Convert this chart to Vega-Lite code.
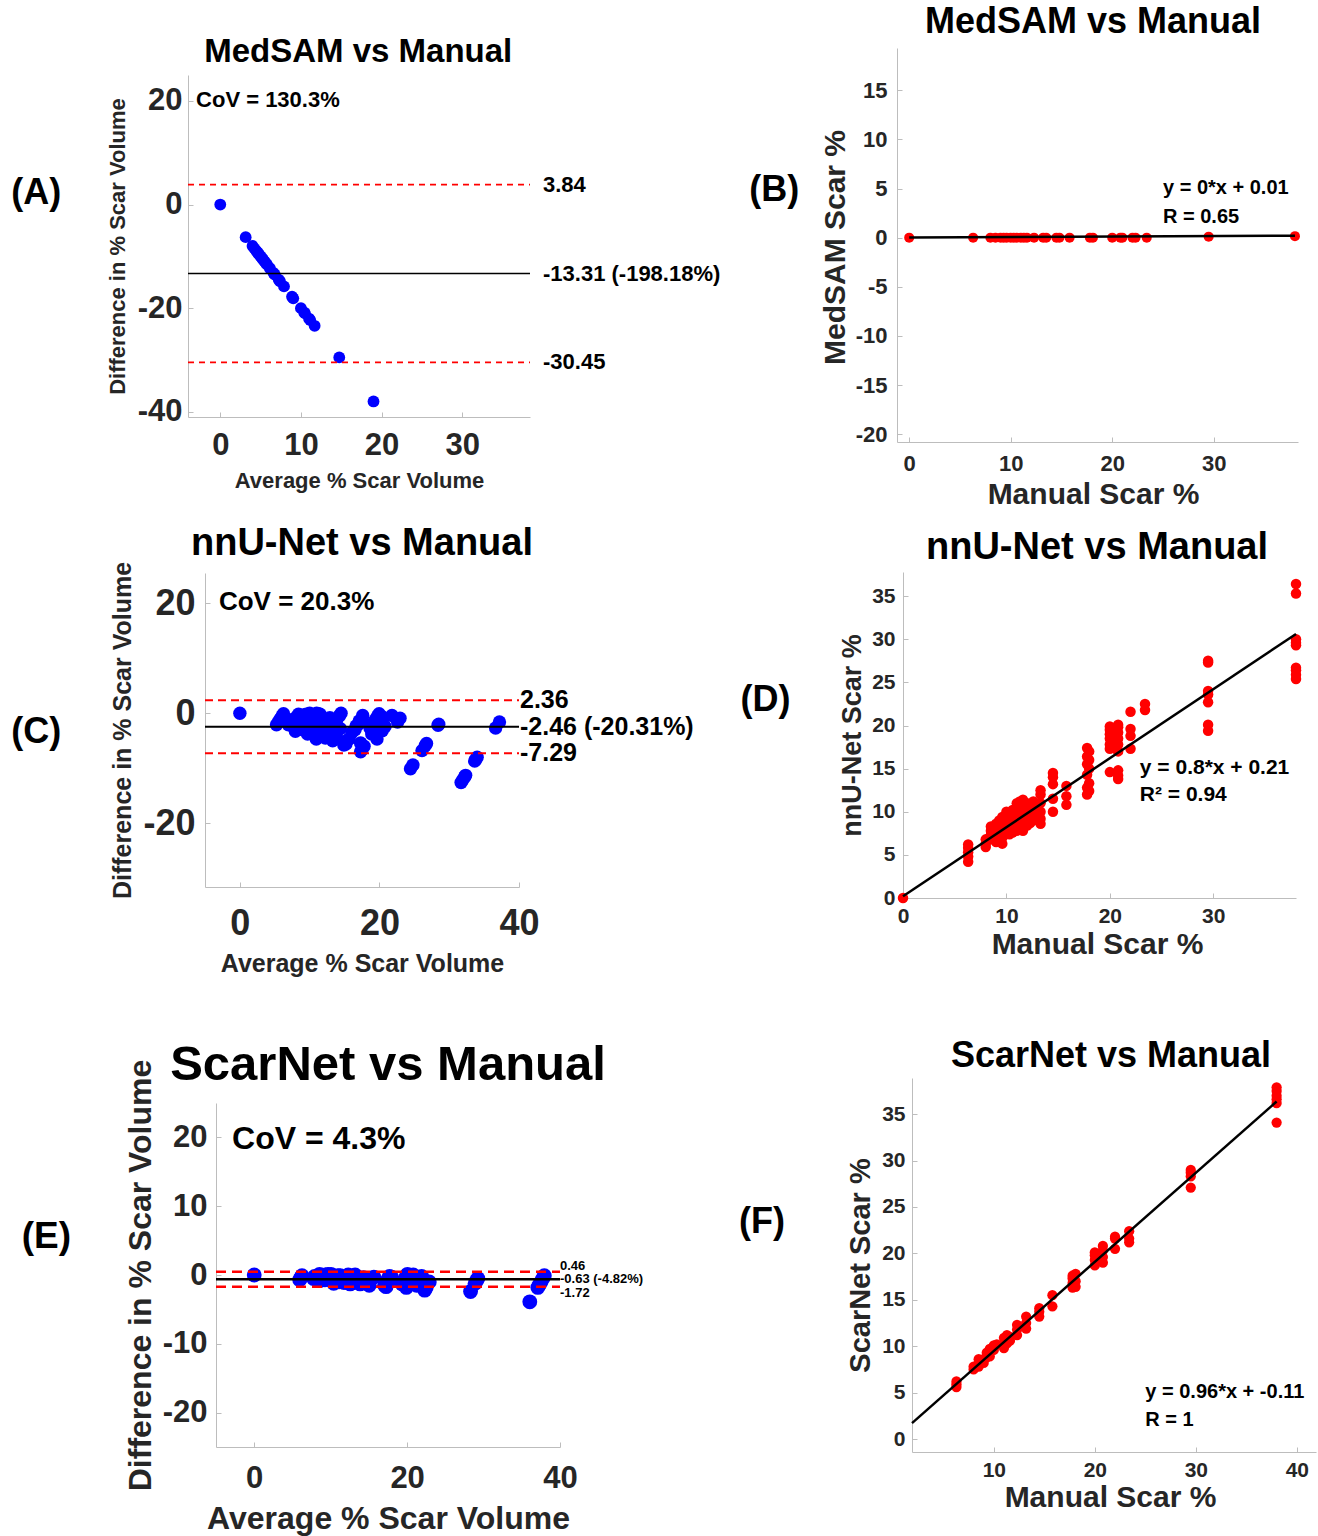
{
"$schema": "https://vega.github.io/schema/vega-lite/v6.json",
"background": "white",
"padding": 0,
"autosize": {"type": "pad"},
"columns": 2,
"spacing": 0,
"bounds": "flush",
"align": "each",
"resolve": {"scale": {"x": "independent", "y": "independent", "color": "independent", "strokeDash": "independent"}},
"config": {
  "view": {"stroke": null},
  "axis": {"grid": false, "labelOverlap": false, "labelFlush": false, "labelExpr": "'' + datum.value", "domainColor": "#bdbdbd", "domainWidth": 1, "tickColor": "#bdbdbd", "tickSize": -5, "labelFont": "Liberation Sans", "labelFontWeight": "bold", "labelColor": "#262626", "titleFont": "Liberation Sans", "titleFontWeight": "bold", "titleColor": "#262626"},
  "text": {"font": "Liberation Sans", "fontWeight": "bold", "color": "#000000", "baseline": "middle"}
},
"datasets": {
  "a_pts": [
    {"avg":0,"diff":0},{"avg":3.15,"diff":-6.3},{"avg":4,"diff":-8},{"avg":4.25,"diff":-8.5},{"avg":4.5,"diff":-9},{"avg":4.65,"diff":-9.3},{"avg":4.8,"diff":-9.6},{"avg":5,"diff":-10},{"avg":5.15,"diff":-10.3},{"avg":5.3,"diff":-10.6},{"avg":5.5,"diff":-11},{"avg":5.65,"diff":-11.3},{"avg":5.8,"diff":-11.6},{"avg":6.15,"diff":-12.3},{"avg":6.6,"diff":-13.2},{"avg":6.75,"diff":-13.5},{"avg":7.25,"diff":-14.5},{"avg":7.4,"diff":-14.8},{"avg":7.9,"diff":-15.8},{"avg":8.9,"diff":-17.8},{"avg":9.05,"diff":-18.1},{"avg":10,"diff":-20},{"avg":10.4,"diff":-20.8},{"avg":10.5,"diff":-21},{"avg":11,"diff":-22},{"avg":11.15,"diff":-22.3},{"avg":11.7,"diff":-23.4},{"avg":14.75,"diff":-29.5},{"avg":19,"diff":-38}
  ],
  "a_lines": [
    {"value":3.84,"kind":"limit","label":"3.84"},
    {"value":-13.31,"kind":"mean","label":"-13.31 (-198.18%)"},
    {"value":-30.45,"kind":"limit","label":"-30.45"}
  ],
  "b_pts": [
    {"manual":0,"medsam":0},{"manual":6.3,"medsam":0},{"manual":8,"medsam":0},{"manual":8.5,"medsam":0},{"manual":9,"medsam":0},{"manual":9.3,"medsam":0},{"manual":9.6,"medsam":0},{"manual":10,"medsam":0},{"manual":10.3,"medsam":0},{"manual":10.6,"medsam":0},{"manual":11,"medsam":0},{"manual":11.3,"medsam":0},{"manual":11.6,"medsam":0},{"manual":12.3,"medsam":0},{"manual":13.2,"medsam":0},{"manual":13.5,"medsam":0},{"manual":14.5,"medsam":0},{"manual":14.8,"medsam":0},{"manual":15.8,"medsam":0},{"manual":17.8,"medsam":0},{"manual":18.1,"medsam":0},{"manual":20,"medsam":0},{"manual":20.8,"medsam":0},{"manual":21,"medsam":0},{"manual":22,"medsam":0},{"manual":22.3,"medsam":0},{"manual":23.4,"medsam":0},{"manual":29.5,"medsam":0.1},{"manual":38,"medsam":0.15}
  ],
  "b_fit": [{"manual":0,"medsam":0.01},{"manual":38,"medsam":0.2}],
  "c_pts": [
    {"avg":0,"diff":0},
    {"avg":5.25,"diff":-2.1},{"avg":5.55,"diff":-1.5},{"avg":5.8,"diff":-1.0},{"avg":6.05,"diff":-0.5},{"avg":6.25,"diff":-0.1},
    {"avg":6.95,"diff":-2.1},{"avg":7.15,"diff":-1.7},{"avg":7.4,"diff":-1.2},
    {"avg":7.65,"diff":-1.7},{"avg":7.9,"diff":-1.2},{"avg":8.15,"diff":-0.7},{"avg":8.4,"diff":-0.2},
    {"avg":7.75,"diff":-2.5},{"avg":8.1,"diff":-1.8},{"avg":8.35,"diff":-1.3},{"avg":8.6,"diff":-0.8},{"avg":8.8,"diff":-0.4},
    {"avg":8.1,"diff":-2.4},{"avg":8.4,"diff":-1.8},{"avg":8.9,"diff":-0.8},{"avg":9.15,"diff":-0.3},
    {"avg":7.95,"diff":-3.3},{"avg":8.3,"diff":-2.6},{"avg":8.7,"diff":-1.8},{"avg":9.2,"diff":-0.8},{"avg":9.5,"diff":-0.2},
    {"avg":8.75,"diff":-2.5},{"avg":9.1,"diff":-1.8},{"avg":9.45,"diff":-1.1},{"avg":9.8,"diff":-0.4},{"avg":10,"diff":0},
    {"avg":8.85,"diff":-2.9},{"avg":9.15,"diff":-2.3},{"avg":9.7,"diff":-1.2},{"avg":10.05,"diff":-0.5},
    {"avg":9.1,"diff":-3.0},{"avg":9.5,"diff":-2.2},{"avg":9.95,"diff":-1.3},{"avg":10.4,"diff":-0.4},
    {"avg":9.4,"diff":-3.2},{"avg":9.8,"diff":-2.4},{"avg":10.25,"diff":-1.5},{"avg":10.75,"diff":-0.5},{"avg":11,"diff":0},
    {"avg":9.65,"diff":-3.3},{"avg":10.15,"diff":-2.3},{"avg":10.65,"diff":-1.3},{"avg":11.25,"diff":-0.1},
    {"avg":9.7,"diff":-3.8},{"avg":10.15,"diff":-2.9},{"avg":10.65,"diff":-1.9},{"avg":11.1,"diff":-1.0},{"avg":11.5,"diff":-0.2},
    {"avg":10.2,"diff":-3.6},{"avg":10.6,"diff":-2.8},{"avg":11.05,"diff":-1.9},{"avg":11.5,"diff":-1.0},
    {"avg":10.5,"diff":-3.6},{"avg":10.9,"diff":-2.8},{"avg":11.35,"diff":-1.9},
    {"avg":10.8,"diff":-3.6},{"avg":11.25,"diff":-2.7},{"avg":11.7,"diff":-1.8},{"avg":11.9,"diff":-1.4},
    {"avg":10.95,"diff":-4.7},{"avg":11.25,"diff":-4.1},{"avg":11.65,"diff":-3.3},{"avg":12.15,"diff":-2.3},{"avg":12.65,"diff":-1.3},{"avg":12.9,"diff":-0.8},
    {"avg":12.25,"diff":-4.5},{"avg":13,"diff":-3.0},{"avg":13.85,"diff":-1.3},{"avg":14.25,"diff":-0.5},{"avg":14.5,"diff":0},
    {"avg":13.3,"diff":-5.0},{"avg":13.8,"diff":-4.0},{"avg":14.4,"diff":-2.8},
    {"avg":14.9,"diff":-5.8},{"avg":15.3,"diff":-5.0},{"avg":16.05,"diff":-3.5},{"avg":16.65,"diff":-2.3},{"avg":17.1,"diff":-1.4},{"avg":17.6,"diff":-0.4},
    {"avg":15.2,"diff":-5.6},{"avg":15.65,"diff":-4.7},{"avg":16.5,"diff":-3.0},{"avg":17,"diff":-2.0},{"avg":17.5,"diff":-1.0},
    {"avg":17.3,"diff":-5.4},{"avg":18.65,"diff":-2.7},{"avg":18.9,"diff":-2.2},{"avg":19.25,"diff":-1.5},{"avg":19.5,"diff":-1.0},{"avg":19.75,"diff":-0.5},{"avg":19.95,"diff":-0.1},
    {"avg":17.3,"diff":-7.0},{"avg":17.5,"diff":-6.6},{"avg":17.8,"diff":-6.0},{"avg":18.9,"diff":-3.8},{"avg":19.3,"diff":-3.0},{"avg":19.65,"diff":-2.3},{"avg":20,"diff":-1.6},{"avg":20.3,"diff":-1.0},{"avg":20.45,"diff":-0.7},
    {"avg":19.65,"diff":-4.7},{"avg":20.4,"diff":-3.2},{"avg":20.8,"diff":-2.4},{"avg":21.8,"diff":-0.4},
    {"avg":22.6,"diff":-1.6},{"avg":22.95,"diff":-0.9},
    {"avg":24.45,"diff":-10.1},{"avg":24.8,"diff":-9.4},{"avg":26.1,"diff":-6.8},{"avg":26.55,"diff":-5.9},{"avg":26.75,"diff":-5.5},{"avg":28.4,"diff":-2.2},{"avg":28.5,"diff":-2.0},
    {"avg":31.7,"diff":-12.6},{"avg":31.95,"diff":-12.1},{"avg":32.2,"diff":-11.6},{"avg":32.35,"diff":-11.3},{"avg":33.65,"diff":-8.7},{"avg":33.8,"diff":-8.4},{"avg":34,"diff":-8.0},{"avg":36.65,"diff":-2.7},{"avg":37.2,"diff":-1.6}
  ],
  "c_lines": [
    {"value":2.36,"kind":"limit","label":"2.36"},
    {"value":-2.46,"kind":"mean","label":"-2.46 (-20.31%)"},
    {"value":-7.29,"kind":"limit","label":"-7.29"}
  ],
  "d_pts": [
    {"manual":0,"nnunet":0},
    {"manual":6.3,"nnunet":4.2},{"manual":6.3,"nnunet":4.8},{"manual":6.3,"nnunet":5.3},{"manual":6.3,"nnunet":5.8},{"manual":6.3,"nnunet":6.2},
    {"manual":8,"nnunet":5.9},{"manual":8,"nnunet":6.3},{"manual":8,"nnunet":6.8},
    {"manual":8.5,"nnunet":6.8},{"manual":8.5,"nnunet":7.3},{"manual":8.5,"nnunet":7.8},{"manual":8.5,"nnunet":8.3},
    {"manual":9,"nnunet":6.5},{"manual":9,"nnunet":7.2},{"manual":9,"nnunet":7.7},{"manual":9,"nnunet":8.2},{"manual":9,"nnunet":8.6},
    {"manual":9.3,"nnunet":6.9},{"manual":9.3,"nnunet":7.5},{"manual":9.3,"nnunet":8.5},{"manual":9.3,"nnunet":9.0},
    {"manual":9.6,"nnunet":6.3},{"manual":9.6,"nnunet":7.0},{"manual":9.6,"nnunet":7.8},{"manual":9.6,"nnunet":8.8},{"manual":9.6,"nnunet":9.4},
    {"manual":10,"nnunet":7.5},{"manual":10,"nnunet":8.2},{"manual":10,"nnunet":8.9},{"manual":10,"nnunet":9.6},{"manual":10,"nnunet":10.0},
    {"manual":10.3,"nnunet":7.4},{"manual":10.3,"nnunet":8.0},{"manual":10.3,"nnunet":9.1},{"manual":10.3,"nnunet":9.8},
    {"manual":10.6,"nnunet":7.6},{"manual":10.6,"nnunet":8.4},{"manual":10.6,"nnunet":9.3},{"manual":10.6,"nnunet":10.2},
    {"manual":11,"nnunet":7.8},{"manual":11,"nnunet":8.6},{"manual":11,"nnunet":9.5},{"manual":11,"nnunet":10.5},{"manual":11,"nnunet":11.0},
    {"manual":11.3,"nnunet":8.0},{"manual":11.3,"nnunet":9.0},{"manual":11.3,"nnunet":10.0},{"manual":11.3,"nnunet":11.2},
    {"manual":11.6,"nnunet":7.8},{"manual":11.6,"nnunet":8.7},{"manual":11.6,"nnunet":9.7},{"manual":11.6,"nnunet":10.6},{"manual":11.6,"nnunet":11.4},
    {"manual":12,"nnunet":8.4},{"manual":12,"nnunet":9.2},{"manual":12,"nnunet":10.1},{"manual":12,"nnunet":11.0},
    {"manual":12.3,"nnunet":8.7},{"manual":12.3,"nnunet":9.5},{"manual":12.3,"nnunet":10.4},
    {"manual":12.6,"nnunet":9.0},{"manual":12.6,"nnunet":9.9},{"manual":12.6,"nnunet":10.8},{"manual":12.6,"nnunet":11.2},
    {"manual":13.3,"nnunet":8.6},{"manual":13.3,"nnunet":9.2},{"manual":13.3,"nnunet":10.0},{"manual":13.3,"nnunet":11.0},{"manual":13.3,"nnunet":12.0},{"manual":13.3,"nnunet":12.5},
    {"manual":14.5,"nnunet":10.0},{"manual":14.5,"nnunet":11.5},{"manual":14.5,"nnunet":13.2},{"manual":14.5,"nnunet":14.0},{"manual":14.5,"nnunet":14.5},
    {"manual":15.8,"nnunet":10.8},{"manual":15.8,"nnunet":11.8},{"manual":15.8,"nnunet":13.0},
    {"manual":17.8,"nnunet":12.0},{"manual":17.8,"nnunet":12.8},{"manual":17.8,"nnunet":14.3},{"manual":17.8,"nnunet":15.5},{"manual":17.8,"nnunet":16.4},{"manual":17.8,"nnunet":17.4},
    {"manual":18,"nnunet":12.4},{"manual":18,"nnunet":13.3},{"manual":18,"nnunet":15.0},{"manual":18,"nnunet":16.0},{"manual":18,"nnunet":17.0},
    {"manual":20,"nnunet":14.6},{"manual":20,"nnunet":17.3},{"manual":20,"nnunet":17.8},{"manual":20,"nnunet":18.5},{"manual":20,"nnunet":19.0},{"manual":20,"nnunet":19.5},{"manual":20,"nnunet":19.9},
    {"manual":20.8,"nnunet":13.8},{"manual":20.8,"nnunet":14.2},{"manual":20.8,"nnunet":14.8},{"manual":20.8,"nnunet":17.0},{"manual":20.8,"nnunet":17.8},{"manual":20.8,"nnunet":18.5},{"manual":20.8,"nnunet":19.2},{"manual":20.8,"nnunet":19.8},{"manual":20.8,"nnunet":20.1},
    {"manual":22,"nnunet":17.3},{"manual":22,"nnunet":18.8},{"manual":22,"nnunet":19.6},{"manual":22,"nnunet":21.6},
    {"manual":23.4,"nnunet":21.8},{"manual":23.4,"nnunet":22.5},
    {"manual":29.5,"nnunet":19.4},{"manual":29.5,"nnunet":20.1},{"manual":29.5,"nnunet":22.7},{"manual":29.5,"nnunet":23.6},{"manual":29.5,"nnunet":24.0},{"manual":29.5,"nnunet":27.3},{"manual":29.5,"nnunet":27.5},
    {"manual":38,"nnunet":25.4},{"manual":38,"nnunet":25.9},{"manual":38,"nnunet":26.4},{"manual":38,"nnunet":26.7},{"manual":38,"nnunet":29.3},{"manual":38,"nnunet":29.6},{"manual":38,"nnunet":30.0},{"manual":38,"nnunet":35.3},{"manual":38,"nnunet":36.4}
  ],
  "d_fit": [{"manual":0,"nnunet":0.21},{"manual":38,"nnunet":30.61}],
  "e_pts": [
    {"avg":0,"diff":0},
    {"avg":5.95,"diff":-0.7},{"avg":6.1,"diff":-0.4},{"avg":6.25,"diff":-0.1},
    {"avg":7.75,"diff":-0.5},{"avg":7.9,"diff":-0.2},
    {"avg":8.15,"diff":-0.7},{"avg":8.35,"diff":-0.3},{"avg":8.55,"diff":0.1},
    {"avg":8.6,"diff":-0.8},{"avg":8.8,"diff":-0.4},
    {"avg":9.05,"diff":-0.5},{"avg":9.3,"diff":0},
    {"avg":9.25,"diff":-0.7},{"avg":9.55,"diff":-0.1},{"avg":9.65,"diff":0.1},
    {"avg":9.8,"diff":-0.4},{"avg":10.05,"diff":0.1},
    {"avg":10.25,"diff":-0.1},
    {"avg":10.4,"diff":-1.2},{"avg":10.65,"diff":-0.7},{"avg":10.95,"diff":-0.1},
    {"avg":10.8,"diff":-1.0},{"avg":11.05,"diff":-0.5},{"avg":11.25,"diff":-0.1},
    {"avg":11.1,"diff":-1.0},{"avg":11.3,"diff":-0.6},
    {"avg":11.75,"diff":-1.1},{"avg":12.05,"diff":-0.5},{"avg":12.3,"diff":0},
    {"avg":12.55,"diff":-1.3},{"avg":12.85,"diff":-0.7},{"avg":13.2,"diff":0},
    {"avg":13.85,"diff":-1.3},{"avg":14.1,"diff":-0.8},{"avg":14.3,"diff":-0.4},
    {"avg":15.05,"diff":-1.5},{"avg":15.65,"diff":-0.3},
    {"avg":17.05,"diff":-1.5},{"avg":17.3,"diff":-1.0},{"avg":17.55,"diff":-0.5},{"avg":17.7,"diff":-0.2},
    {"avg":17.25,"diff":-1.7},{"avg":17.55,"diff":-1.1},{"avg":17.95,"diff":-0.3},
    {"avg":19.35,"diff":-1.3},{"avg":19.65,"diff":-0.7},{"avg":19.9,"diff":-0.2},{"avg":20.05,"diff":0.1},
    {"avg":19.9,"diff":-1.8},{"avg":20.2,"diff":-1.2},{"avg":20.55,"diff":-0.5},{"avg":20.8,"diff":0},
    {"avg":21.25,"diff":-1.5},{"avg":21.8,"diff":-0.4},{"avg":21.9,"diff":-0.2},
    {"avg":22.3,"diff":-2.2},{"avg":22.5,"diff":-1.8},{"avg":22.9,"diff":-1.0},
    {"avg":28.3,"diff":-2.4},{"avg":28.9,"diff":-1.2},{"avg":29.1,"diff":-0.8},{"avg":29.25,"diff":-0.5},
    {"avg":36.05,"diff":-3.9},{"avg":37.1,"diff":-1.8},{"avg":37.3,"diff":-1.4},{"avg":37.5,"diff":-1.0},{"avg":37.75,"diff":-0.5},{"avg":37.95,"diff":-0.1}
  ],
  "e_lines": [
    {"value":0.46,"kind":"limit","label":"0.46"},
    {"value":-0.63,"kind":"mean","label":"-0.63 (-4.82%)"},
    {"value":-1.72,"kind":"limit","label":"-1.72"}
  ],
  "f_pts": [
    {"manual":6.3,"scarnet":5.6},{"manual":6.3,"scarnet":5.9},{"manual":6.3,"scarnet":6.2},
    {"manual":8,"scarnet":7.5},{"manual":8,"scarnet":7.8},
    {"manual":8.5,"scarnet":7.8},{"manual":8.5,"scarnet":8.2},{"manual":8.5,"scarnet":8.6},
    {"manual":9,"scarnet":8.2},{"manual":9,"scarnet":8.6},
    {"manual":9.3,"scarnet":8.8},{"manual":9.3,"scarnet":9.3},
    {"manual":9.6,"scarnet":8.9},{"manual":9.6,"scarnet":9.5},{"manual":9.6,"scarnet":9.7},
    {"manual":10,"scarnet":9.6},{"manual":10,"scarnet":10.1},
    {"manual":10.3,"scarnet":10.2},
    {"manual":11,"scarnet":9.8},{"manual":11,"scarnet":10.3},{"manual":11,"scarnet":10.9},
    {"manual":11.3,"scarnet":10.3},{"manual":11.3,"scarnet":10.8},{"manual":11.3,"scarnet":11.2},
    {"manual":11.6,"scarnet":10.6},{"manual":11.6,"scarnet":11.0},
    {"manual":12.3,"scarnet":11.2},{"manual":12.3,"scarnet":11.8},{"manual":12.3,"scarnet":12.3},
    {"manual":13.2,"scarnet":11.9},{"manual":13.2,"scarnet":12.5},{"manual":13.2,"scarnet":13.2},
    {"manual":14.5,"scarnet":13.2},{"manual":14.5,"scarnet":13.7},{"manual":14.5,"scarnet":14.1},
    {"manual":15.8,"scarnet":14.3},{"manual":15.8,"scarnet":15.5},
    {"manual":17.8,"scarnet":16.3},{"manual":17.8,"scarnet":16.8},{"manual":17.8,"scarnet":17.3},{"manual":17.8,"scarnet":17.6},
    {"manual":18.1,"scarnet":16.4},{"manual":18.1,"scarnet":17.0},{"manual":18.1,"scarnet":17.8},
    {"manual":20,"scarnet":18.7},{"manual":20,"scarnet":19.3},{"manual":20,"scarnet":19.8},{"manual":20,"scarnet":20.1},
    {"manual":20.8,"scarnet":19.0},{"manual":20.8,"scarnet":19.6},{"manual":20.8,"scarnet":20.3},{"manual":20.8,"scarnet":20.8},
    {"manual":22,"scarnet":20.5},{"manual":22,"scarnet":21.6},{"manual":22,"scarnet":21.8},
    {"manual":23.4,"scarnet":21.2},{"manual":23.4,"scarnet":21.6},{"manual":23.4,"scarnet":22.4},
    {"manual":29.5,"scarnet":27.1},{"manual":29.5,"scarnet":28.3},{"manual":29.5,"scarnet":28.7},{"manual":29.5,"scarnet":29.0},
    {"manual":38,"scarnet":34.1},{"manual":38,"scarnet":36.2},{"manual":38,"scarnet":36.6},{"manual":38,"scarnet":37.0},{"manual":38,"scarnet":37.5},{"manual":38,"scarnet":37.9}
  ],
  "f_fit": [{"manual":1.9,"scarnet":1.71},{"manual":38,"scarnet":36.37}]
},
"concat": [
  {
    "width": 735, "height": 515,
    "layer": [
      {"data": {"name": "a_pts"}, "mark": {"type": "circle", "size": 140, "color": "#0000ff", "opacity": 1},
       "encoding": {
         "x": {"field": "avg", "type": "quantitative", "scale": {"domain": [-4, 38.4], "range": [188, 530], "nice": false, "zero": false},
               "axis": {"orient": "bottom", "offset": -98, "values": [0, 10, 20, 30], "labelFontSize": 31, "labelPadding": 18, "title": "Average % Scar Volume", "titleFontSize": 22, "titleX": 359, "titleY": 63, "titleBaseline": "middle", "titleAlign": "center"}},
         "y": {"field": "diff", "type": "quantitative", "scale": {"domain": [-41, 25], "range": [417, 75], "nice": false, "zero": false},
               "axis": {"orient": "left", "offset": -188, "values": [-40, -20, 0, 20], "labelFontSize": 31, "labelPadding": 11, "title": "Difference in % Scar Volume", "titleFontSize": 22, "titleX": -71, "titleY": 246, "titleAngle": -90, "titleBaseline": "middle", "titleAlign": "center"}}
       }},
      {"data": {"name": "a_lines"}, "mark": {"type": "rule", "strokeWidth": 1.6},
       "encoding": {
         "y": {"field": "value", "type": "quantitative"},
         "x": {"datum": -4, "type": "quantitative"}, "x2": {"datum": 38.4},
         "color": {"field": "kind", "type": "nominal", "scale": {"domain": ["limit", "mean"], "range": ["#ff0000", "#000000"]}, "legend": null},
         "strokeDash": {"field": "kind", "type": "nominal", "scale": {"domain": ["limit", "mean"], "range": [[6, 5], [1, 0]]}, "legend": null}
       }},
      {"data": {"name": "a_lines"}, "mark": {"type": "text", "align": "left", "dx": 13, "fontSize": 22},
       "encoding": {"y": {"field": "value", "type": "quantitative"}, "x": {"datum": 38.4, "type": "quantitative"}, "text": {"field": "label"}}},
      {"data": {"values": [{"t": "MedSAM vs Manual"}]}, "mark": {"type": "text", "align": "center", "fontSize": 33},
       "encoding": {"x": {"datum": 17.1, "type": "quantitative"}, "y": {"datum": 29.4, "type": "quantitative"}, "text": {"field": "t"}}},
      {"data": {"values": [{"t": "(A)"}]}, "mark": {"type": "text", "align": "center", "fontSize": 36},
       "encoding": {"x": {"datum": -22.8, "type": "quantitative"}, "y": {"datum": 2.2, "type": "quantitative"}, "text": {"field": "t"}}},
      {"data": {"values": [{"t": "CoV = 130.3%"}]}, "mark": {"type": "text", "align": "left", "fontSize": 22},
       "encoding": {"x": {"datum": -3.0, "type": "quantitative"}, "y": {"datum": 20.2, "type": "quantitative"}, "text": {"field": "t"}}}
    ]
  },
  {
    "width": 583, "height": 515,
    "layer": [
      {"data": {"name": "b_pts"}, "mark": {"type": "circle", "size": 100, "color": "#ff0000", "opacity": 1},
       "encoding": {
         "x": {"field": "manual", "type": "quantitative", "scale": {"domain": [-1.2, 38.3], "range": [162, 563], "nice": false, "zero": false},
               "axis": {"orient": "bottom", "offset": -73, "values": [0, 10, 20, 30], "labelFontSize": 22, "labelPadding": 16, "title": "Manual Scar %", "titleFontSize": 30, "titleX": 358, "titleY": 52, "titleBaseline": "middle", "titleAlign": "center"}},
         "y": {"field": "medsam", "type": "quantitative", "scale": {"domain": [-20.8, 19.3], "range": [442, 48], "nice": false, "zero": false},
               "axis": {"orient": "left", "offset": -162, "values": [-20, -15, -10, -5, 0, 5, 10, 15], "labelFontSize": 22, "labelPadding": 15, "title": "MedSAM Scar %", "titleFontSize": 30, "titleX": -62, "titleY": 247, "titleAngle": -90, "titleBaseline": "middle", "titleAlign": "center"}}
       }},
      {"data": {"name": "b_fit"}, "mark": {"type": "line", "color": "#000000", "strokeWidth": 2.5},
       "encoding": {"x": {"field": "manual", "type": "quantitative"}, "y": {"field": "medsam", "type": "quantitative"}}},
      {"data": {"values": [{"t": "MedSAM vs Manual"}]}, "mark": {"type": "text", "align": "center", "fontSize": 36},
       "encoding": {"x": {"datum": 18.1, "type": "quantitative"}, "y": {"datum": 21.95, "type": "quantitative"}, "text": {"field": "t"}}},
      {"data": {"values": [{"t": "(B)"}]}, "mark": {"type": "text", "align": "center", "fontSize": 36},
       "encoding": {"x": {"datum": -13.3, "type": "quantitative"}, "y": {"datum": 4.85, "type": "quantitative"}, "text": {"field": "t"}}},
      {"data": {"values": [{"t": "y = 0*x + 0.01"}]}, "mark": {"type": "text", "align": "left", "fontSize": 20},
       "encoding": {"x": {"datum": 25.0, "type": "quantitative"}, "y": {"datum": 5.05, "type": "quantitative"}, "text": {"field": "t"}}},
      {"data": {"values": [{"t": "R = 0.65"}]}, "mark": {"type": "text", "align": "left", "fontSize": 20},
       "encoding": {"x": {"datum": 25.0, "type": "quantitative"}, "y": {"datum": 2.1, "type": "quantitative"}, "text": {"field": "t"}}}
    ]
  },
  {
    "width": 735, "height": 505,
    "layer": [
      {"data": {"name": "c_pts"}, "mark": {"type": "circle", "size": 180, "color": "#0000ff", "opacity": 1},
       "encoding": {
         "x": {"field": "avg", "type": "quantitative", "scale": {"domain": [-5, 40], "range": [205, 519], "nice": false, "zero": false},
               "axis": {"orient": "bottom", "offset": -133, "values": [0, 20, 40], "labelFontSize": 36, "labelPadding": 24, "title": "Average % Scar Volume", "titleFontSize": 25, "titleX": 362, "titleY": 76, "titleBaseline": "middle", "titleAlign": "center"}},
         "y": {"field": "diff", "type": "quantitative", "scale": {"domain": [-31.6, 25.5], "range": [372, 58], "nice": false, "zero": false},
               "axis": {"orient": "left", "offset": -205, "values": [-20, 0, 20], "labelFontSize": 36, "labelPadding": 15, "title": "Difference in % Scar Volume", "titleFontSize": 25, "titleX": -83, "titleY": 215, "titleAngle": -90, "titleBaseline": "middle", "titleAlign": "center"}}
       }},
      {"data": {"name": "c_lines"}, "mark": {"type": "rule", "strokeWidth": 2},
       "encoding": {
         "y": {"field": "value", "type": "quantitative"},
         "x": {"datum": -5, "type": "quantitative"}, "x2": {"datum": 40},
         "color": {"field": "kind", "type": "nominal", "scale": {"domain": ["limit", "mean"], "range": ["#ff0000", "#000000"]}, "legend": null},
         "strokeDash": {"field": "kind", "type": "nominal", "scale": {"domain": ["limit", "mean"], "range": [[8, 5], [1, 0]]}, "legend": null}
       }},
      {"data": {"name": "c_lines"}, "mark": {"type": "text", "align": "left", "dx": 1, "fontSize": 25},
       "encoding": {"y": {"field": "value", "type": "quantitative"}, "x": {"datum": 40, "type": "quantitative"}, "text": {"field": "label"}}},
      {"data": {"values": [{"t": "nnU-Net vs Manual"}]}, "mark": {"type": "text", "align": "center", "fontSize": 38},
       "encoding": {"x": {"datum": 17.5, "type": "quantitative"}, "y": {"datum": 30.8, "type": "quantitative"}, "text": {"field": "t"}}},
      {"data": {"values": [{"t": "(C)"}]}, "mark": {"type": "text", "align": "center", "fontSize": 36},
       "encoding": {"x": {"datum": -29.2, "type": "quantitative"}, "y": {"datum": -3.4, "type": "quantitative"}, "text": {"field": "t"}}},
      {"data": {"values": [{"t": "CoV = 20.3%"}]}, "mark": {"type": "text", "align": "left", "fontSize": 26},
       "encoding": {"x": {"datum": -3.0, "type": "quantitative"}, "y": {"datum": 20.2, "type": "quantitative"}, "text": {"field": "t"}}}
    ]
  },
  {
    "width": 583, "height": 505,
    "layer": [
      {"data": {"name": "d_pts"}, "mark": {"type": "circle", "size": 110, "color": "#ff0000", "opacity": 1},
       "encoding": {
         "x": {"field": "manual", "type": "quantitative", "scale": {"domain": [0, 38], "range": [168, 561], "nice": false, "zero": false},
               "axis": {"orient": "bottom", "offset": -122, "values": [0, 10, 20, 30], "labelFontSize": 21, "labelPadding": 12, "title": "Manual Scar %", "titleFontSize": 30, "titleX": 362, "titleY": 46, "titleBaseline": "middle", "titleAlign": "center"}},
         "y": {"field": "nnunet", "type": "quantitative", "scale": {"domain": [0, 37.8], "range": [383, 57], "nice": false, "zero": false},
               "axis": {"orient": "left", "offset": -168, "values": [0, 5, 10, 15, 20, 25, 30, 35], "labelFontSize": 21, "labelPadding": 13, "title": "nnU-Net Scar %", "titleFontSize": 27, "titleX": -51, "titleY": 220, "titleAngle": -90, "titleBaseline": "middle", "titleAlign": "center"}}
       }},
      {"data": {"name": "d_fit"}, "mark": {"type": "line", "color": "#000000", "strokeWidth": 2.5},
       "encoding": {"x": {"field": "manual", "type": "quantitative"}, "y": {"field": "nnunet", "type": "quantitative"}}},
      {"data": {"values": [{"t": "nnU-Net vs Manual"}]}, "mark": {"type": "text", "align": "center", "fontSize": 38},
       "encoding": {"x": {"datum": 18.76, "type": "quantitative"}, "y": {"datum": 40.6, "type": "quantitative"}, "text": {"field": "t"}}},
      {"data": {"values": [{"t": "(D)"}]}, "mark": {"type": "text", "align": "center", "fontSize": 36},
       "encoding": {"x": {"datum": -13.3, "type": "quantitative"}, "y": {"datum": 22.96, "type": "quantitative"}, "text": {"field": "t"}}},
      {"data": {"values": [{"t": "y = 0.8*x + 0.21"}]}, "mark": {"type": "text", "align": "left", "fontSize": 21},
       "encoding": {"x": {"datum": 22.9, "type": "quantitative"}, "y": {"datum": 15.07, "type": "quantitative"}, "text": {"field": "t"}}},
      {"data": {"values": [{"t": "R² = 0.94"}]}, "mark": {"type": "text", "align": "left", "fontSize": 21},
       "encoding": {"x": {"datum": 22.9, "type": "quantitative"}, "y": {"datum": 11.94, "type": "quantitative"}, "text": {"field": "t"}}}
    ]
  },
  {
    "width": 735, "height": 516,
    "layer": [
      {"data": {"name": "e_pts"}, "mark": {"type": "circle", "size": 220, "color": "#0000ff", "opacity": 1},
       "encoding": {
         "x": {"field": "avg", "type": "quantitative", "scale": {"domain": [-5, 40], "range": [216, 560], "nice": false, "zero": false},
               "axis": {"orient": "bottom", "offset": -89, "values": [0, 20, 40], "labelFontSize": 31, "labelPadding": 21, "title": "Average % Scar Volume", "titleFontSize": 32, "titleX": 388, "titleY": 71, "titleBaseline": "middle", "titleAlign": "center"}},
         "y": {"field": "diff", "type": "quantitative", "scale": {"domain": [-25, 25], "range": [427, 83], "nice": false, "zero": false},
               "axis": {"orient": "left", "offset": -216, "values": [-20, -10, 0, 10, 20], "labelFontSize": 31, "labelPadding": 14, "title": "Difference in % Scar Volume", "titleFontSize": 32, "titleX": -76, "titleY": 255, "titleAngle": -90, "titleBaseline": "middle", "titleAlign": "center"}}
       }},
      {"data": {"name": "e_lines"}, "mark": {"type": "rule", "strokeWidth": 2.5},
       "encoding": {
         "y": {"field": "value", "type": "quantitative"},
         "x": {"datum": -5, "type": "quantitative"}, "x2": {"datum": 40},
         "color": {"field": "kind", "type": "nominal", "scale": {"domain": ["limit", "mean"], "range": ["#ff0000", "#000000"]}, "legend": null},
         "strokeDash": {"field": "kind", "type": "nominal", "scale": {"domain": ["limit", "mean"], "range": [[10, 6], [1, 0]]}, "legend": null}
       }},
      {"data": {"name": "e_lines"}, "transform": [{"filter": "datum.label == '0.46'"}], "mark": {"type": "text", "align": "left", "dx": 0, "dy": -6, "fontSize": 13},
       "encoding": {"y": {"field": "value", "type": "quantitative"}, "x": {"datum": 40, "type": "quantitative"}, "text": {"field": "label"}}},
      {"data": {"name": "e_lines"}, "transform": [{"filter": "datum.kind == 'mean'"}], "mark": {"type": "text", "align": "left", "dx": 0, "fontSize": 13},
       "encoding": {"y": {"field": "value", "type": "quantitative"}, "x": {"datum": 40, "type": "quantitative"}, "text": {"field": "label"}}},
      {"data": {"name": "e_lines"}, "transform": [{"filter": "datum.label == '-1.72'"}], "mark": {"type": "text", "align": "left", "dx": 0, "dy": 6, "fontSize": 13},
       "encoding": {"y": {"field": "value", "type": "quantitative"}, "x": {"datum": 40, "type": "quantitative"}, "text": {"field": "label"}}},
      {"data": {"values": [{"t": "ScarNet vs Manual"}]}, "mark": {"type": "text", "align": "center", "fontSize": 49},
       "encoding": {"x": {"datum": 17.5, "type": "quantitative"}, "y": {"datum": 30.5, "type": "quantitative"}, "text": {"field": "t"}}},
      {"data": {"values": [{"t": "(E)"}]}, "mark": {"type": "text", "align": "center", "fontSize": 37},
       "encoding": {"x": {"datum": -27.2, "type": "quantitative"}, "y": {"datum": 5.5, "type": "quantitative"}, "text": {"field": "t"}}},
      {"data": {"values": [{"t": "CoV = 4.3%"}]}, "mark": {"type": "text", "align": "left", "fontSize": 32},
       "encoding": {"x": {"datum": -2.9, "type": "quantitative"}, "y": {"datum": 19.8, "type": "quantitative"}, "text": {"field": "t"}}}
    ]
  },
  {
    "width": 583, "height": 516,
    "layer": [
      {"data": {"name": "f_pts"}, "mark": {"type": "circle", "size": 105, "color": "#ff0000", "opacity": 1},
       "encoding": {
         "x": {"field": "manual", "type": "quantitative", "scale": {"domain": [1.9, 41.9], "range": [177, 581], "nice": false, "zero": false},
               "axis": {"orient": "bottom", "offset": -84, "values": [10, 20, 30, 40], "labelFontSize": 21, "labelPadding": 12, "title": "Manual Scar %", "titleFontSize": 30, "titleX": 375, "titleY": 45, "titleBaseline": "middle", "titleAlign": "center"}},
         "y": {"field": "scarnet", "type": "quantitative", "scale": {"domain": [-1.4, 38.9], "range": [432, 58], "nice": false, "zero": false},
               "axis": {"orient": "left", "offset": -177, "values": [0, 5, 10, 15, 20, 25, 30, 35], "labelFontSize": 21, "labelPadding": 12, "title": "ScarNet Scar %", "titleFontSize": 29, "titleX": -52, "titleY": 245, "titleAngle": -90, "titleBaseline": "middle", "titleAlign": "center"}}
       }},
      {"data": {"name": "f_fit"}, "mark": {"type": "line", "color": "#000000", "strokeWidth": 2.5},
       "encoding": {"x": {"field": "manual", "type": "quantitative"}, "y": {"field": "scarnet", "type": "quantitative"}}},
      {"data": {"values": [{"t": "ScarNet vs Manual"}]}, "mark": {"type": "text", "align": "center", "fontSize": 36},
       "encoding": {"x": {"datum": 21.6, "type": "quantitative"}, "y": {"datum": 41.3, "type": "quantitative"}, "text": {"field": "t"}}},
      {"data": {"values": [{"t": "(F)"}]}, "mark": {"type": "text", "align": "center", "fontSize": 36},
       "encoding": {"x": {"datum": -12.95, "type": "quantitative"}, "y": {"datum": 23.4, "type": "quantitative"}, "text": {"field": "t"}}},
      {"data": {"values": [{"t": "y = 0.96*x + -0.11"}]}, "mark": {"type": "text", "align": "left", "fontSize": 20},
       "encoding": {"x": {"datum": 25.0, "type": "quantitative"}, "y": {"datum": 5.06, "type": "quantitative"}, "text": {"field": "t"}}},
      {"data": {"values": [{"t": "R = 1"}]}, "mark": {"type": "text", "align": "left", "fontSize": 20},
       "encoding": {"x": {"datum": 25.0, "type": "quantitative"}, "y": {"datum": 2.05, "type": "quantitative"}, "text": {"field": "t"}}}
    ]
  }
]
}
